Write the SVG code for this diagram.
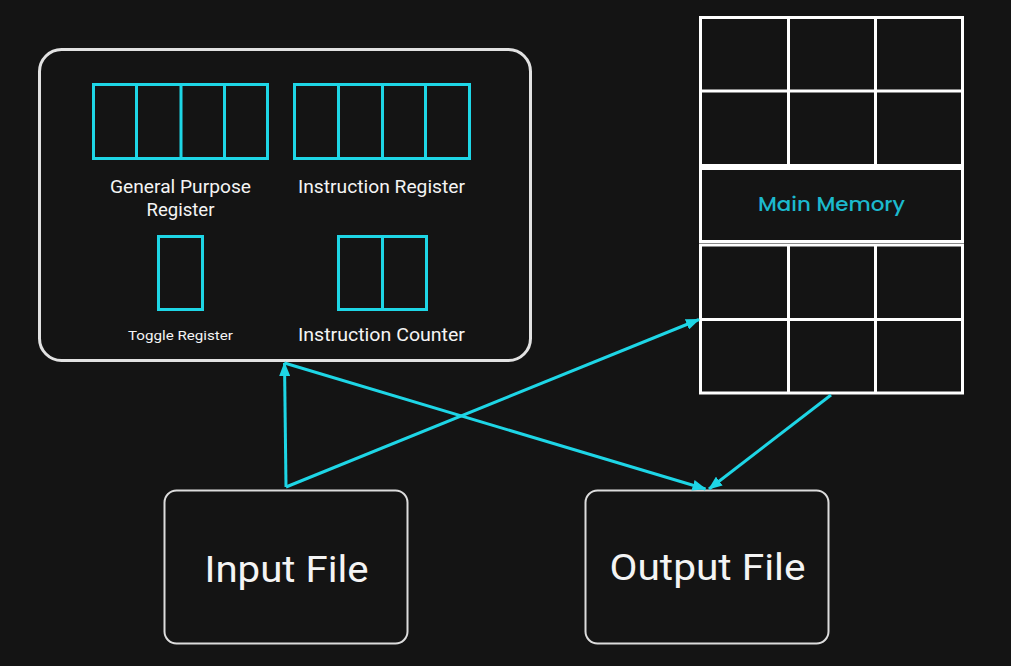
<svg xmlns="http://www.w3.org/2000/svg" width="1011" height="666" viewBox="0 0 1011 666">
<style>
.reg{fill:none;stroke:#1ED6E6;stroke-width:3}
.div{stroke:#1ED6E6;stroke-width:3}
.mem{fill:#141414;stroke:#ffffff;stroke-width:3}
.memline{stroke:#ffffff;stroke-width:3}
.lbl{font-family:Roboto,"Open Sans",sans-serif;fill:#f4f4f4;text-anchor:middle}
.file{fill:#141414;stroke:#dcdcdc;stroke-width:2}
.conn{fill:none;stroke:#1ED6E6;stroke-width:3}
</style>
<defs>
<marker id="ah" viewBox="0 0 14 11" refX="13" refY="5.5" markerWidth="14" markerHeight="11" markerUnits="userSpaceOnUse" orient="auto">
<path d="M0,0 L14,5.5 L0,11 z" fill="#1ED6E6"/>
</marker>
</defs>
<rect width="1011" height="666" fill="#141414"/>

<g id="cpu">
<rect x="39.5" y="49.5" width="491" height="311" rx="22" fill="#141414" stroke="#e2e2e2" stroke-width="3"/>
</g>

<g id="general-purpose-register">
<rect class="reg" x="93.5" y="84.5" width="174" height="74"/>
<line class="div" x1="136.5" y1="84.5" x2="136.5" y2="158.5"/>
<line class="div" x1="181" y1="84.5" x2="181" y2="158.5"/>
<line class="div" x1="224.5" y1="84.5" x2="224.5" y2="158.5"/>
<text class="lbl" x="180.5" y="192.5" font-size="17.5" textLength="141" lengthAdjust="spacingAndGlyphs">General Purpose</text>
<text class="lbl" x="180.5" y="216" font-size="17.5" textLength="68" lengthAdjust="spacingAndGlyphs">Register</text>
</g>

<g id="instruction-register">
<rect class="reg" x="294.5" y="84.5" width="175" height="74"/>
<line class="div" x1="338.5" y1="84.5" x2="338.5" y2="158.5"/>
<line class="div" x1="382.5" y1="84.5" x2="382.5" y2="158.5"/>
<line class="div" x1="425.5" y1="84.5" x2="425.5" y2="158.5"/>
<text class="lbl" x="381.5" y="192.5" font-size="17.5" textLength="167" lengthAdjust="spacingAndGlyphs">Instruction Register</text>
</g>

<g id="toggle-register">
<rect class="reg" x="158.5" y="236.5" width="44" height="73"/>
<text class="lbl" x="180.5" y="339.5" font-size="13.5" textLength="105" lengthAdjust="spacingAndGlyphs">Toggle Register</text>
</g>

<g id="instruction-counter">
<rect class="reg" x="338.5" y="236.5" width="88" height="73"/>
<line class="div" x1="382.5" y1="236.5" x2="382.5" y2="309.5"/>
<text class="lbl" x="381.5" y="341" font-size="17.5" textLength="167" lengthAdjust="spacingAndGlyphs">Instruction Counter</text>
</g>

<g id="main-memory">
<rect class="mem" x="700.5" y="17.5" width="262" height="148"/>
<line class="memline" x1="700.5" y1="91" x2="962.5" y2="91"/>
<line class="memline" x1="788.5" y1="17.5" x2="788.5" y2="165.5"/>
<line class="memline" x1="875.5" y1="17.5" x2="875.5" y2="165.5"/>
<rect class="mem" x="700.5" y="168.5" width="262" height="73"/>
<text x="831.5" y="211" font-family="Poppins,Inter,'Open Sans',sans-serif" font-size="20" font-weight="500" fill="#1CB9CD" text-anchor="middle" textLength="147" lengthAdjust="spacingAndGlyphs">Main Memory</text>
<rect class="mem" x="700.5" y="245" width="262" height="148"/>
<line class="memline" x1="700.5" y1="319.5" x2="962.5" y2="319.5"/>
<line class="memline" x1="788.5" y1="245" x2="788.5" y2="393"/>
<line class="memline" x1="875.5" y1="245" x2="875.5" y2="393"/>
</g>

<g id="input-file">
<rect class="file" x="164.5" y="490.5" width="243" height="153" rx="12"/>
<text class="lbl" x="286.5" y="581.5" font-size="36" textLength="164" lengthAdjust="spacingAndGlyphs">Input File</text>
</g>

<g id="output-file">
<rect class="file" x="585.5" y="490.5" width="243" height="153" rx="12"/>
<text class="lbl" x="707.5" y="579.5" font-size="36" textLength="196" lengthAdjust="spacingAndGlyphs">Output File</text>
</g>

<g id="connectors">
<line class="conn" x1="286" y1="487" x2="284.5" y2="363" marker-end="url(#ah)"/>
<line class="conn" x1="286" y1="487" x2="699" y2="319.5" marker-end="url(#ah)"/>
<line class="conn" x1="284.5" y1="363" x2="705.5" y2="489" marker-end="url(#ah)"/>
<line class="conn" x1="831" y1="395" x2="709" y2="489" marker-end="url(#ah)"/>
</g>
</svg>
